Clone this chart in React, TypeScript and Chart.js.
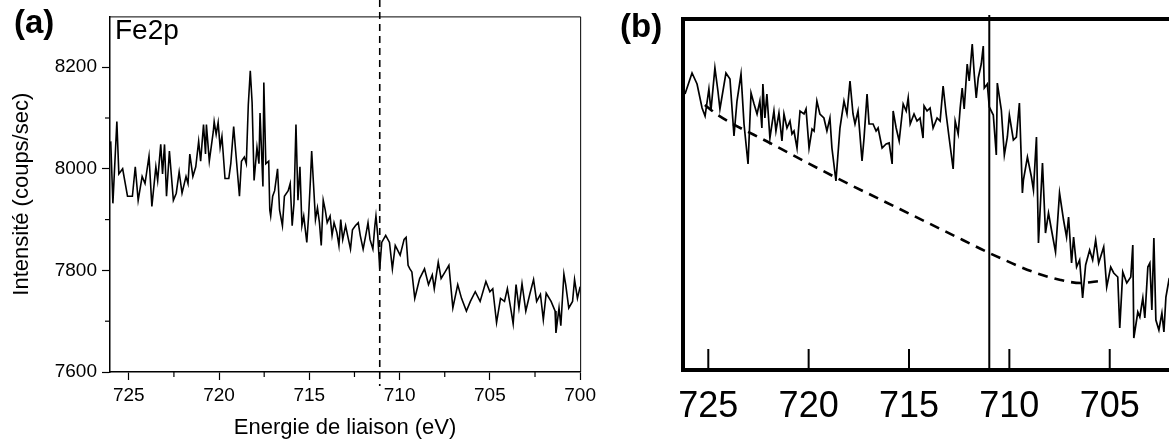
import React, { useEffect, useRef } from "react";
import { Chart, registerables } from "chart.js";

Chart.register(...registerables);

const FONT = "'Liberation Sans', Arial, Helvetica, sans-serif";

// ---------- Panel (a): Fe2p ----------
const fe2pEnergy = [
  726.0, 725.88, 725.66, 725.55, 725.34, 725.07, 724.80, 724.64, 724.48, 724.26,
  724.10, 723.88, 723.72, 723.50, 723.40, 723.23, 723.13, 723.02, 722.91, 722.75,
  722.53, 722.37, 722.21, 722.05, 721.83, 721.72, 721.62, 721.45, 721.29, 721.13,
  721.02, 720.86, 720.75, 720.70, 720.54, 720.32, 720.27, 720.16, 720.05, 719.94,
  719.84, 719.67, 719.46, 719.35, 719.19, 719.08, 718.87, 718.76, 718.60, 718.49,
  718.38, 718.27, 718.17, 718.06, 717.90, 717.79, 717.73, 717.57, 717.52, 717.41,
  717.25, 717.19, 717.14, 717.03, 716.92, 716.76, 716.65, 716.49, 716.38, 716.17,
  716.06, 715.95, 715.85, 715.74, 715.63, 715.52, 715.41, 715.31, 715.14, 715.04,
  714.93, 714.87, 714.77, 714.66, 714.55, 714.44, 714.34, 714.23, 714.12, 714.01,
  713.85, 713.74, 713.63, 713.47, 713.36, 713.26, 713.15, 712.99, 712.88, 712.72,
  712.61, 712.45, 712.29, 712.18, 712.02, 711.85, 711.75, 711.64, 711.48, 711.37,
  711.31, 711.21, 711.10, 710.99, 710.77, 710.56, 710.40, 710.24, 709.97, 709.75,
  709.64, 709.53, 709.43, 709.32, 709.16, 708.89, 708.62, 708.40, 708.19, 708.08,
  707.86, 707.70, 707.48, 707.27, 707.05, 706.78, 706.57, 706.30, 706.08, 705.81,
  705.54, 705.22, 705.00, 704.84, 704.63, 704.41, 704.19, 704.03, 703.82, 703.71,
  703.55, 703.39, 703.22, 703.01, 702.79, 702.58, 702.41, 702.20, 702.04, 701.88,
  701.61, 701.39, 701.34, 701.17, 701.07, 700.90, 700.80, 700.63, 700.42, 700.31,
  700.15, 700.0,
];
const fe2pCounts = [
  8054, 7932, 8093, 7990, 8000, 7946, 7946, 8004, 7938, 7985,
  7971, 8025, 7926, 8004, 7977, 8048, 7990, 8048, 7946, 8035,
  7938, 7952, 7994, 7952, 7985, 7971, 8029, 7985, 8004, 8054,
  8015, 8087, 8029, 8087, 8015, 8073, 8093, 8068, 8091, 8042,
  8064, 7981, 7981, 8010, 8083, 8035, 7946, 8015, 8023, 8010,
  8126, 8193, 8131, 7977, 8042, 8010, 8110, 7965, 8170, 8010,
  8015, 7919, 7907, 7946, 7957, 8000, 7919, 7888, 7946, 7957,
  7971, 7888, 7932, 8087, 7938, 8004, 7888, 7907, 7855, 7907,
  7985, 8035, 7971, 7900, 7923, 7894, 7849, 7938, 7919, 7894,
  7907, 7869, 7894, 7874, 7849, 7900, 7861, 7888, 7869, 7842,
  7880, 7888, 7894, 7869, 7842, 7874, 7894, 7861, 7842, 7888,
  7907, 7869, 7803, 7855, 7869, 7855, 7803, 7849, 7830, 7861,
  7865, 7810, 7803, 7797, 7745, 7784, 7803, 7772, 7791, 7764,
  7816, 7784, 7797, 7810, 7726, 7772, 7745, 7720, 7739, 7758,
  7739, 7778, 7758, 7764, 7697, 7745, 7739, 7764, 7720, 7695,
  7772, 7726, 7774, 7720, 7753, 7782, 7739, 7753, 7703, 7755,
  7739, 7720, 7677, 7726, 7691, 7793, 7772, 7726, 7739, 7782,
  7745, 7768,
];
const fe2pXTicks = [725, 720, 715, 710, 705, 700];
const fe2pXMinor = [722.5, 717.5, 712.5, 707.5, 702.5];
const fe2pYTicks = [7600, 7800, 8000, 8200];
const fe2pYMinor = [7700, 7900, 8100];
const fe2pMarker = 711.1;

// ---------- Panel (b): reference spectrum ----------
const refEnergy = [
  726.16, 725.81, 725.56, 725.31, 725.16, 724.97, 724.87, 724.67, 724.52, 724.42,
  724.12, 723.92, 723.72, 723.57, 723.37, 723.22, 723.02, 722.87, 722.72, 722.57,
  722.43, 722.33, 722.28, 722.18, 722.08, 721.93, 721.73, 721.63, 721.48, 721.33,
  721.23, 721.08, 720.93, 720.83, 720.73, 720.58, 720.43, 720.23, 720.13, 719.98,
  719.83, 719.73, 719.59, 719.44, 719.24, 719.09, 718.94, 718.84, 718.64, 718.44,
  718.24, 718.09, 717.94, 717.79, 717.69, 717.54, 717.34, 717.24, 717.09, 716.99,
  716.79, 716.64, 716.54, 716.34, 716.14, 715.99, 715.84, 715.79, 715.64, 715.49,
  715.29, 715.14, 715.04, 714.94, 714.75, 714.60, 714.45, 714.30, 714.25, 714.10,
  713.95, 713.80, 713.60, 713.45, 713.30, 713.15, 713.00, 712.80, 712.70, 712.55,
  712.45, 712.35, 712.25, 712.10, 712.00, 711.85, 711.75, 711.65, 711.55, 711.40,
  711.30, 711.25, 711.10, 711.00, 710.80, 710.65, 710.60, 710.40, 710.25, 710.10,
  710.00, 709.80, 709.65, 709.50, 709.35, 709.30, 709.10, 708.90, 708.80, 708.65,
  708.55, 708.35, 708.20, 708.05, 707.90, 707.70, 707.50, 707.30, 707.15, 707.05,
  706.90, 706.80, 706.65, 706.50, 706.35, 706.20, 706.00, 705.85, 705.70, 705.55,
  705.30, 705.15, 704.95, 704.80, 704.60, 704.50, 704.35, 704.15, 703.95, 703.85,
  703.80, 703.60, 703.50, 703.35, 703.25, 703.10, 703.00, 702.90, 702.80, 702.70,
  702.55, 702.40, 702.30, 702.20, 702.05, 701.90,
];
const refIntensity = [
  276, 297, 286, 262, 254, 281, 259, 302, 279, 261,
  297, 291, 234, 269, 296, 246, 206, 277, 266, 256,
  269, 242, 286, 252, 276, 232, 259, 239, 257, 229,
  256, 242, 249, 236, 239, 222, 259, 256, 261, 222,
  241, 239, 269, 256, 252, 239, 252, 222, 189, 242,
  269, 256, 289, 256, 246, 259, 209, 232, 276, 246,
  246, 239, 242, 222, 226, 227, 206, 259, 242, 229,
  266, 259, 272, 246, 256, 249, 252, 232, 264, 259,
  262, 242, 252, 249, 284, 256, 232, 201, 249, 236,
  262, 282, 261, 306, 289, 326, 296, 272, 292, 306,
  324, 282, 286, 263, 255, 215, 287, 260, 215, 233,
  255, 230, 233, 267, 177, 190, 213, 193, 180, 233,
  127, 207, 137, 157, 140, 118, 177, 150, 133, 153,
  107, 133, 103, 110, 72, 105, 120, 110, 130, 107,
  123, 83, 103, 97, 93, 42, 98, 87, 93, 125,
  32, 58, 53, 72, 52, 103, 107, 60, 132, 50,
  40, 57, 38, 73, 90, 85,
];
const bgEnergy = [725.17, 724.52, 721.93, 718.6, 715.46, 712.32, 711.0, 708.8, 707.45, 706.45, 705.46];
const bgIntensity = [265, 255, 227, 192, 161, 130, 117, 98, 90, 87, 89];
const refXTicks = [725, 720, 715, 710, 705];
const refMarker = 711.0;

const toPoints = (xs: number[], ys: number[]) => xs.map((x, i) => ({ x, y: ys[i] }));

function line(ctx: CanvasRenderingContext2D, x1: number, y1: number, x2: number, y2: number) {
  ctx.beginPath();
  ctx.moveTo(x1, y1);
  ctx.lineTo(x2, y2);
  ctx.stroke();
}

const panelAPlugin = {
  id: "panelAExtras",
  afterDraw(chart: any) {
    const { ctx, chartArea: ca, scales } = chart;
    const x = scales.x;
    const y = scales.y;
    ctx.save();
    ctx.strokeStyle = "#000";
    ctx.lineWidth = 1;
    ctx.beginPath();
    ctx.moveTo(ca.left, ca.top + 0.5);
    ctx.lineTo(ca.right + 0.5, ca.top + 0.5);
    ctx.lineTo(ca.right + 0.5, ca.bottom);
    ctx.stroke();
    ctx.lineWidth = 1.2;
    for (const v of fe2pXMinor) {
      const px = x.getPixelForValue(v);
      line(ctx, px, ca.bottom, px, ca.bottom + 5);
    }
    for (const v of fe2pYMinor) {
      const py = y.getPixelForValue(v);
      line(ctx, ca.left - 5, py, ca.left, py);
    }
    ctx.lineWidth = 1.6;
    ctx.setLineDash([7, 5]);
    const mx = x.getPixelForValue(fe2pMarker);
    line(ctx, mx, 0, mx, ca.bottom + 14);
    ctx.restore();
  },
};

const panelBPlugin = {
  id: "panelBExtras",
  afterDraw(chart: any) {
    const { ctx, chartArea: ca, scales, width } = chart;
    const x = scales.x;
    ctx.save();
    ctx.strokeStyle = "#000";
    ctx.lineWidth = 4;
    line(ctx, ca.left - 2, ca.top, width, ca.top);
    ctx.lineWidth = 2;
    for (const v of refXTicks) {
      const px = x.getPixelForValue(v);
      line(ctx, px, ca.bottom, px, ca.bottom - 21);
    }
    const mx = x.getPixelForValue(refMarker);
    line(ctx, mx, ca.top - 4, mx, ca.bottom);
    ctx.restore();
  },
};

export default function App() {
  const refA = useRef<HTMLCanvasElement>(null);
  const refB = useRef<HTMLCanvasElement>(null);

  useEffect(() => {
    Chart.defaults.font.family = FONT;
    Chart.defaults.color = "#000";

    const chartA = new Chart(refA.current as HTMLCanvasElement, {
      type: "line",
      data: {
        datasets: [
          {
            data: toPoints(fe2pEnergy, fe2pCounts),
            borderColor: "#000",
            borderWidth: 1.6,
            pointRadius: 0,
            tension: 0,
            fill: false,
          },
        ],
      },
      options: {
        responsive: false,
        animation: false,
        layout: { padding: { left: 0, top: 10, right: 7, bottom: 0 } },
        plugins: { legend: { display: false }, tooltip: { enabled: false } },
        scales: {
          x: {
            type: "linear",
            reverse: true,
            min: 700,
            max: 726.04,
            afterBuildTicks: (s: any) => {
              s.ticks = fe2pXTicks.map((value) => ({ value }));
            },
            afterFit: (s: any) => {
              s.height = 72;
            },
            ticks: {
              callback: (v: any) => String(v),
              font: { size: 19 },
              color: "#000",
              padding: 4,
              maxRotation: 0,
              autoSkip: false,
            },
            grid: { drawOnChartArea: false, drawTicks: true, tickLength: 8, tickWidth: 1.2, tickColor: "#000" },
            border: { display: true, color: "#000", width: 1.5 },
            title: {
              display: true,
              text: "Energie de liaison (eV)",
              font: { size: 22 },
              color: "#000",
              padding: { top: 0, bottom: 3 },
            },
          },
          y: {
            type: "linear",
            min: 7600,
            max: 8300,
            afterBuildTicks: (s: any) => {
              s.ticks = fe2pYTicks.map((value) => ({ value }));
            },
            afterFit: (s: any) => {
              s.width = 110;
            },
            ticks: {
              callback: (v: any) => String(v),
              font: { size: 19 },
              color: "#000",
              padding: 5,
            },
            grid: { drawOnChartArea: false, drawTicks: true, tickLength: 8, tickWidth: 1.2, tickColor: "#000" },
            border: { display: true, color: "#000", width: 1.5 },
            title: {
              display: true,
              text: "Intensité (coups/sec)",
              font: { size: 22 },
              color: "#000",
              padding: { top: 9, bottom: 0 },
            },
          },
        },
      },
      plugins: [panelAPlugin],
    } as any);

    const chartB = new Chart(refB.current as HTMLCanvasElement, {
      type: "line",
      data: {
        datasets: [
          {
            data: toPoints(refEnergy, refIntensity),
            borderColor: "#000",
            borderWidth: 1.7,
            pointRadius: 0,
            tension: 0,
            fill: false,
            order: 0,
          },
          {
            data: toPoints(bgEnergy, bgIntensity),
            borderColor: "#000",
            borderWidth: 2.6,
            borderDash: [10, 7],
            pointRadius: 0,
            cubicInterpolationMode: "monotone",
            fill: false,
            order: 1,
          },
        ],
      },
      options: {
        responsive: false,
        animation: false,
        layout: { padding: { left: 0, top: 19, right: 10, bottom: 0 } },
        plugins: { legend: { display: false }, tooltip: { enabled: false } },
        scales: {
          x: {
            type: "linear",
            reverse: true,
            min: 701,
            max: 726.26,
            afterBuildTicks: (s: any) => {
              s.ticks = refXTicks.map((value) => ({ value }));
            },
            afterFit: (s: any) => {
              s.height = 74;
            },
            ticks: {
              callback: (v: any) => String(v),
              font: { size: 36 },
              color: "#000",
              padding: 7,
              maxRotation: 0,
              autoSkip: false,
            },
            grid: { display: false },
            border: { display: true, color: "#000", width: 4 },
          },
          y: {
            type: "linear",
            min: 0,
            max: 351,
            afterFit: (s: any) => {
              s.width = 83;
            },
            ticks: { display: false },
            grid: { display: false },
            border: { display: true, color: "#000", width: 4 },
          },
        },
      },
      plugins: [panelBPlugin],
    } as any);

    return () => {
      chartA.destroy();
      chartB.destroy();
    };
  }, []);

  const labelStyle: React.CSSProperties = {
    position: "absolute",
    fontFamily: FONT,
    fontWeight: "bold",
    fontSize: 33,
    lineHeight: 1,
    color: "#000",
  };

  return (
    <div
      style={{
        position: "fixed",
        left: 0,
        top: 0,
        width: 1169,
        height: 444,
        overflow: "hidden",
        background: "#fff",
      }}
    >
      <canvas ref={refA} width={600} height={444} style={{ position: "absolute", left: 0, top: 0, width: 600, height: 444 }} />
      <canvas ref={refB} width={600} height={444} style={{ position: "absolute", left: 600, top: 0, width: 600, height: 444 }} />
      <div style={{ ...labelStyle, left: 14, top: 5 }}>(a)</div>
      <div style={{ ...labelStyle, left: 620, top: 9 }}>(b)</div>
      <div
        style={{
          position: "absolute",
          left: 115,
          top: 16,
          fontFamily: FONT,
          fontSize: 28,
          lineHeight: 1,
          color: "#000",
        }}
      >
        Fe2p
      </div>
    </div>
  );
}
